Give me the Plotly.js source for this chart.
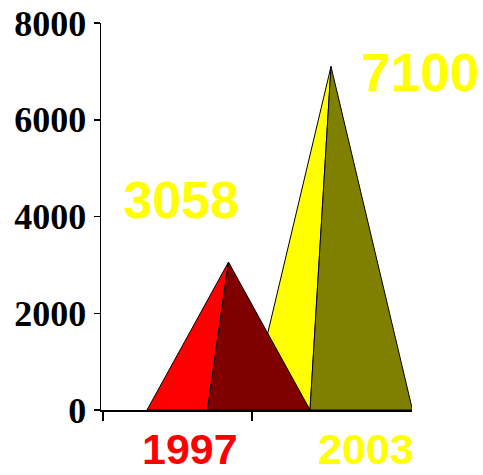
<!DOCTYPE html>
<html>
<head>
<meta charset="utf-8">
<script src="https://cdn.plot.ly/plotly-3.0.1.min.js"></script>
<style>html,body{margin:0;padding:0;background:#fff;}#chart{width:483px;height:475px;}</style>
</head>
<body>
<div id="chart"></div>
<script>
// ---- data ----
var categories = ['1997', '2003'];
var values = [3058, 7100];
var yTickValues = [0, 2000, 4000, 6000, 8000];
var yTickLabels = ['0', '2000', '4000', '6000', '8000'];

// ---- styles / layout constants ----
var leftFaceColors = ['#FF0000', '#FFFF00'];
var rightFaceColors = ['#800000', '#808000'];
var labelColors = ['#FF0000', '#FFFF00'];
var valueColor = '#FFFF00';
var centers = [127.5, 230];     // pyramid centres along the x scale
var halfWidth = 81.5;           // half base width
var edgeOffset = -21;           // front edge foot offset from centre
var catLabelX = [0.286, 0.852]; // paper fractions
var valueLabelX = [0.258, 1.025];
var valueLabelY = [0.543, 0.872];
var valueLabelSize = [52, 53];

var traces = [];
// draw later category first so the earlier one sits in front
for (var i = categories.length - 1; i >= 0; i--) {
  var c = centers[i], v = values[i];
  traces.push({
    type: 'scatter', mode: 'lines', fill: 'toself',
    x: [c - halfWidth, c + edgeOffset, c, c - halfWidth],
    y: [0, 0, v, 0],
    fillcolor: leftFaceColors[i],
    line: {color: '#000', width: 1},
    hoverinfo: 'skip', showlegend: false
  });
  traces.push({
    type: 'scatter', mode: 'lines', fill: 'toself',
    x: [c + edgeOffset, c + halfWidth, c, c + edgeOffset],
    y: [0, 0, v, 0],
    fillcolor: rightFaceColors[i],
    line: {color: '#000', width: 1},
    hoverinfo: 'skip', showlegend: false
  });
}

var annotations = [];
for (var j = 0; j < categories.length; j++) {
  annotations.push({
    text: categories[j], x: catLabelX[j], xref: 'paper', y: -0.102, yref: 'paper',
    xanchor: 'center', yanchor: 'middle', showarrow: false, borderpad: 0,
    font: {family: 'Liberation Sans, Arial, sans-serif', size: 43, weight: 'bold', color: labelColors[j]}
  });
  annotations.push({
    text: String(values[j]), x: valueLabelX[j], xref: 'paper', y: valueLabelY[j], yref: 'paper',
    xanchor: 'center', yanchor: 'middle', showarrow: false,
    font: {family: 'Liberation Sans, Arial, sans-serif', size: valueLabelSize[j], weight: 'bold', color: valueColor}
  });
}

var layout = {
  width: 483, height: 475,
  margin: {l: 101, r: 71, t: 23, b: 65, pad: 0},
  paper_bgcolor: '#fff', plot_bgcolor: '#fff',
  showlegend: false,
  xaxis: {
    range: [0, 311], showgrid: false, zeroline: false,
    showline: true, linecolor: '#000', linewidth: 2,
    tickmode: 'array', tickvals: [2, 151], ticks: 'outside', ticklen: 9,
    tickcolor: '#000', tickwidth: 1.5, showticklabels: false, fixedrange: true
  },
  yaxis: {
    range: [0, 8000], showgrid: false, zeroline: false,
    showline: true, linecolor: '#000', linewidth: 1.5,
    tickmode: 'array', tickvals: yTickValues, ticktext: yTickLabels,
    ticks: 'outside', ticklen: 6, tickcolor: '#000', tickwidth: 1.5,
    ticklabelstandoff: 0,
    tickfont: {family: 'Liberation Serif, Times New Roman, serif', size: 36, weight: 'bold', color: '#000'},
    fixedrange: true
  },
  annotations: annotations
};

Plotly.newPlot('chart', traces, layout, {displayModeBar: false, staticPlot: true});
</script>
</body>
</html>
